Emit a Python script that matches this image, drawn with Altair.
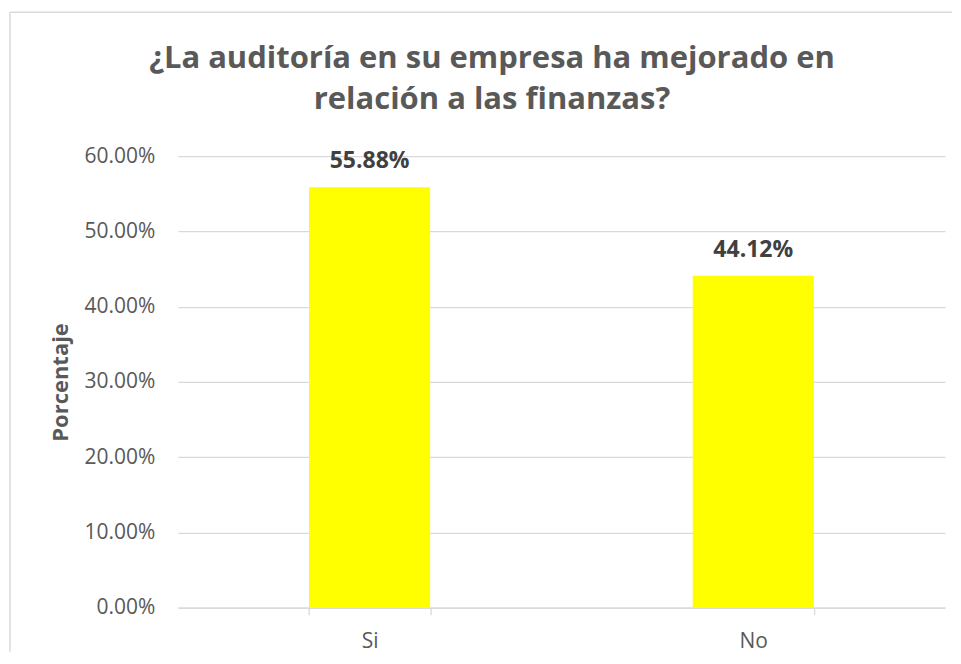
import altair as alt
import pandas as pd

# Data
categories = ["Si", "No"]
percentages = [0.5588, 0.4412]
y_ticks = [0, 0.1, 0.2, 0.3, 0.4, 0.5, 0.6]
title_lines = ["¿La auditoría en su empresa ha mejorado en", "relación a las finanzas?"]
y_title = "Porcentaje"

df = pd.DataFrame({"respuesta": categories, "porcentaje": percentages})

FONT = "Open Sans"
GRID = "#D9D9D9"
TXT = "#595959"

base = alt.Chart(df).encode(
    x=alt.X(
        "respuesta:N",
        sort=categories,
        title=None,
        scale=alt.Scale(paddingInner=0.6845, paddingOuter=0.342),
        axis=alt.Axis(
            labelAngle=0,
            labelFont=FONT,
            labelFontSize=21,
            labelColor=TXT,
            labelPadding=16,
            tickBand="extent",
            ticks=True,
            tickSize=7,
            tickColor=GRID,
            tickWidth=1.3,
            domainColor=GRID,
            domainWidth=1.3,
            grid=False,
        ),
    ),
    y=alt.Y(
        "porcentaje:Q",
        title=y_title,
        scale=alt.Scale(domain=[0, 0.6], nice=False),
        axis=alt.Axis(
            values=y_ticks,
            format=".2%",
            labelFont=FONT,
            labelFontSize=21,
            labelColor=TXT,
            labelPadding=23,
            ticks=False,
            tickSize=0,
            domain=False,
            grid=True,
            gridColor=GRID,
            gridWidth=1.3,
            titleFont=FONT,
            titleFontSize=22,
            titleFontWeight="bold",
            titleColor=TXT,
            titleX=-110,
            titleY=226,
            titleBaseline="alphabetic",
        ),
    ),
)

bars = base.mark_bar(color="#FFFF00")
labels = base.mark_text(
    baseline="alphabetic",
    dy=-19,
    font=FONT,
    fontSize=23,
    fontWeight="bold",
    color="#404040",
).encode(text=alt.Text("porcentaje:Q", format=".2%"))

border_df = pd.DataFrame({"k": [0]})
left_border = alt.Chart(border_df).mark_rule(color=GRID, strokeWidth=1.5).encode(
    x=alt.value(-168), y=alt.value(-144), y2=alt.value(496)
)
top_border = alt.Chart(border_df).mark_rule(color=GRID, strokeWidth=1.5).encode(
    x=alt.value(-168), x2=alt.value(775), y=alt.value(-144)
)

chart = (
    alt.layer(bars, labels, left_border, top_border)
    .properties(
        width=768,
        height=452,
        padding={"left": 1, "top": 3, "right": 0, "bottom": 0},
        title=alt.TitleParams(
            text=title_lines,
            font=FONT,
            fontSize=31,
            fontWeight="bold",
            color=TXT,
            anchor="middle",
            dx=-69.5,
            dy=133,
            offset=28,
            lineHeight=42,
        ),
    )
    .configure_view(stroke=None)
)

chart.save("out.html", embed_options={"renderer": "svg", "actions": False})
